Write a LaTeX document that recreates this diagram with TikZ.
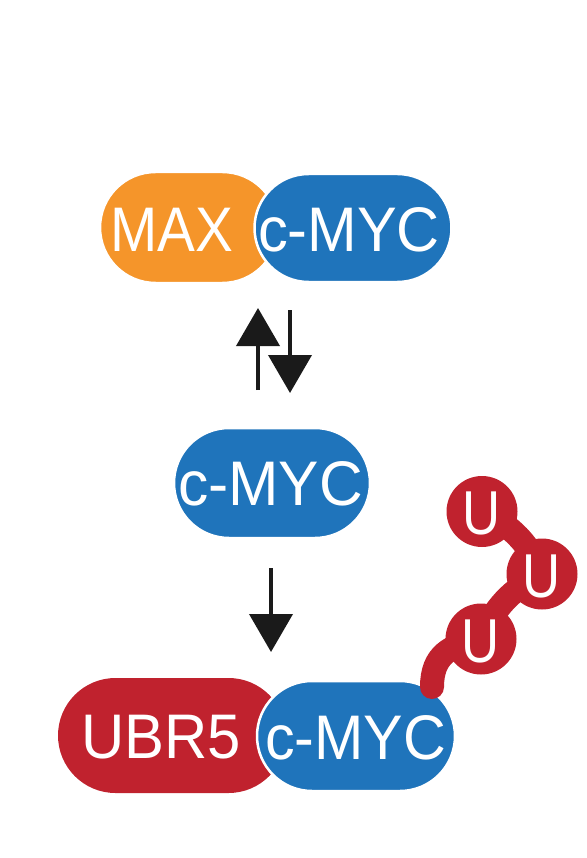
\documentclass[tikz,border=0pt]{standalone}
\usepackage{fontspec}
\setmainfont{Liberation Sans}
\usetikzlibrary{shapes.misc,arrows.meta}
\definecolor{maxorange}{HTML}{F5952A}
\definecolor{mycblue}{HTML}{1F74BB}
\definecolor{ubrred}{HTML}{C0222E}
\definecolor{arrowblack}{HTML}{1A1A1A}
\newcommand{\narrow}[2]{\scalebox{#1}[1]{#2}}
\tikzset{
  pill/.style={rounded rectangle, inner sep=0pt, draw=white, line width=2.5pt},
  lbl/.style={text=white, inner sep=0pt, anchor=base, font=\fontsize{63}{63}\selectfont},
  ulbl/.style={text=white, inner sep=0pt, anchor=base, font=\fontsize{62}{62}\selectfont},
  ubq/.style={circle, fill=ubrred, inner sep=0pt, minimum size=71pt},
  linker/.style={draw=ubrred, line width=24pt, line cap=round, line join=round},
  rxn/.style={draw=arrowblack, line width=4pt, -{Triangle[width=43pt,length=38pt]}}
}
\begin{document}
\begin{tikzpicture}[x=1pt,y=-1pt]
\useasboundingbox (0,0) rectangle (586,858);
% top complex
\node[pill, fill=maxorange, minimum width=178pt, minimum height=111pt] (maxp) at (189,227.5) {};
\node[pill, fill=mycblue, minimum width=197pt, minimum height=108pt] (myc1) at (353,228) {};
\node[lbl] (maxt) at (171.5,252) {\narrow{0.9}{MAX}};
\node[lbl] (myc1t) at (349,252) {\narrow{0.945}{c-MYC}};
% equilibrium arrows
\coordinate (upS) at (258,390);
\coordinate (upE) at (258,308);
\coordinate (dnS) at (290,310);
\coordinate (dnE) at (290,393);
\draw[rxn] (upS) -- (upE);
\draw[rxn] (dnS) -- (dnE);
% free c-MYC
\node[pill, fill=mycblue, minimum width=196pt, minimum height=110pt] (myc2) at (272,483) {};
\node[lbl] (myc2t) at (270.5,505) {\narrow{0.96}{c-MYC}};
% degradation arrow
\coordinate (a3S) at (271,568);
\coordinate (a3E) at (271,652);
\draw[rxn] (a3S) -- (a3E);
% bottom complex
\node[pill, fill=ubrred, draw=none, minimum width=228pt, minimum height=115pt] (ubr) at (172,735.5) {};
\node[pill, fill=mycblue, minimum width=198pt, minimum height=110pt] (myc3) at (356,736) {};
\node[lbl] (ubrt) at (161,758) {\narrow{0.95}{UBR5}};
\node[lbl] (myc3t) at (355.5,759) {\narrow{0.94}{c-MYC}};
% ubiquitin chain
\coordinate (u1) at (482,511.5);
\coordinate (u2) at (542,574);
\coordinate (u3) at (481,639);
\coordinate (tailE) at (432,687);
\draw[linker] (u3) .. controls (450,645) and (432,655) .. (tailE);
\draw[linker] (u1) to[bend left=20] (u2);
\draw[linker] (u2) to[bend right=20] (u3);
\node[ubq] (ub1) at (u1) {};
\node[ubq] (ub2) at (u2) {};
\node[ubq] (ub3) at (u3) {};
\node[ulbl] (ub1t) at (482,534) {\narrow{0.85}{U}};
\node[ulbl] (ub2t) at (542,597) {\narrow{0.85}{U}};
\node[ulbl] (ub3t) at (481,662) {\narrow{0.85}{U}};
\end{tikzpicture}
\end{document}
